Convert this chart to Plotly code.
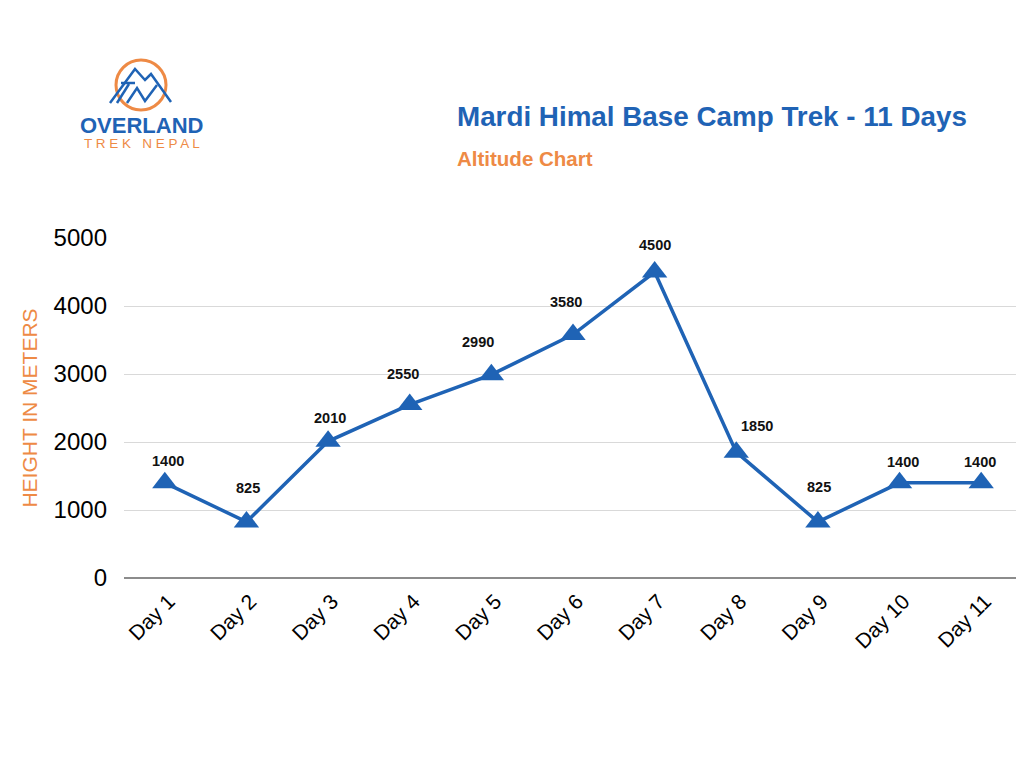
import plotly.graph_objects as go

days = ["Day 1", "Day 2", "Day 3", "Day 4", "Day 5", "Day 6", "Day 7", "Day 8", "Day 9", "Day 10", "Day 11"]
altitude = [1400, 825, 2010, 2550, 2990, 3580, 4500, 1850, 825, 1400, 1400]
y_ticks = [0, 1000, 2000, 3000, 4000, 5000]

# value-label placement (pixel offsets from each marker)
label_dy = [22, 34, 23, 31, 33, 33, 27, 26, 35, 21, 21]
label_dx = [3, 2, 2, -7, -13, -7, 0, 21, 1, 3, -1]

BLUE = "#1f63b5"
ORANGE = "#ee8a45"

W, H = 1024, 768
OFF = 8  # page body margin
SX0, SX1, SY0, SY1 = 124, 1022, 238, 578
L = SX0 - OFF
R = (OFF + W) - SX1
T = SY0 - OFF
B = (OFF + H) - SY1
PW, PH = SX1 - SX0, SY1 - SY0


def px(x):
    return (x - SX0) / PW


def py(y):
    return (SY1 - y) / PH


fig = go.Figure()
fig.add_trace(go.Scatter(
    x=days, y=altitude, mode="lines+markers",
    line=dict(color=BLUE, width=3.5),
    marker=dict(symbol="triangle-up", size=22, color=BLUE),
    cliponaxis=False, hoverinfo="skip", showlegend=False,
))


def path(pts):
    return "M " + " L ".join(f"{px(a):.5f},{py(b):.5f}" for a, b in pts)


shapes = [
    dict(type="circle", xref="paper", yref="paper",
         x0=px(116), x1=px(166), y0=py(110), y1=py(60),
         line=dict(color=ORANGE, width=3)),
    dict(type="path", xref="paper", yref="paper",
         path=path([(110, 103), (135, 69), (145, 80), (151, 74), (171, 102)]),
         line=dict(color=BLUE, width=2.5)),
    dict(type="path", xref="paper", yref="paper",
         path=path([(121, 83), (135, 83)]),
         line=dict(color=BLUE, width=2.5)),
    dict(type="path", xref="paper", yref="paper",
         path=path([(117, 103), (129, 84)]),
         line=dict(color=BLUE, width=2.5)),
    dict(type="path", xref="paper", yref="paper",
         path=path([(127, 103), (137, 88), (145, 101), (157, 85)]),
         line=dict(color=BLUE, width=2.5)),
]
fig.update_layout(shapes=shapes)

annotations = [
    dict(text="<b>OVERLAND</b>", x=px(141), y=py(125), xref="paper", yref="paper",
         showarrow=False, xanchor="center", yanchor="middle",
         font=dict(family="Liberation Sans", size=22, color=BLUE)),
    dict(text="T R E K   N E P A L", x=px(142), y=py(143), xref="paper", yref="paper",
         showarrow=False, xanchor="center", yanchor="middle",
         font=dict(family="Liberation Sans", size=13.5, color=ORANGE)),
    dict(text="<b>Mardi Himal Base Camp Trek - 11 Days</b>", x=px(455), y=py(117),
         xref="paper", yref="paper", showarrow=False, xanchor="left", yanchor="middle",
         font=dict(family="Liberation Sans", size=27.8, color=BLUE)),
    dict(text="<b>Altitude Chart</b>", x=px(455), y=py(158),
         xref="paper", yref="paper", showarrow=False, xanchor="left", yanchor="middle",
         font=dict(family="Liberation Sans", size=20.5, color=ORANGE)),
]
for d, v, dy, dx in zip(days, altitude, label_dy, label_dx):
    annotations.append(dict(
        text=f"<b>{v}</b>", x=d, y=v, xref="x", yref="y", showarrow=False,
        xanchor="center", yanchor="middle", xshift=dx, yshift=dy,
        font=dict(family="Liberation Sans", size=14.5, color="#111111")))
fig.update_layout(annotations=annotations)

fig.update_layout(
    width=W, height=H,
    margin=dict(l=L, r=R, t=T, b=B),
    paper_bgcolor="white", plot_bgcolor="white",
    font=dict(family="Liberation Sans", color="#000000"),
    xaxis=dict(type="category", range=[-0.5, 10.5], tickangle=-45,
               tickfont=dict(size=21, color="#000000"), showgrid=False,
               ticks="", showline=False, zeroline=False, fixedrange=True,
               ticklabelshift=4, ticklabelstandoff=6),
    yaxis=dict(range=[0, 5000], tickvals=y_ticks, tickfont=dict(size=24, color="#000000"),
               showgrid=True, gridcolor="#d9d9d9", gridwidth=1,
               zeroline=True, zerolinecolor="#8c8c8c", zerolinewidth=1.5,
               ticks="", ticklabelstandoff=16,
               title=dict(text="HEIGHT IN METERS", font=dict(size=21, color=ORANGE), standoff=10)),
)

fig.write_html("out.html")
